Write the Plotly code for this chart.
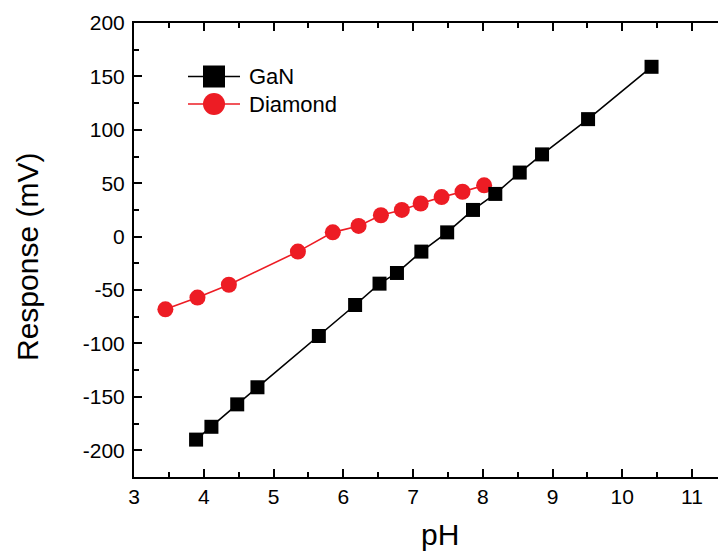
import plotly.graph_objects as go

# pH response of the two sensor surfaces
gan_ph = [3.89, 4.11, 4.48, 4.77, 5.65, 6.17, 6.52, 6.77, 7.12, 7.49, 7.86, 8.18, 8.53, 8.85, 9.51, 10.42]
gan_mv = [-190, -178, -157, -141, -93, -64, -44, -34, -14, 4, 25, 40, 60, 77, 110, 159]

diamond_ph = [3.45, 3.91, 4.36, 5.35, 5.85, 6.22, 6.54, 6.84, 7.11, 7.41, 7.71, 8.02]
diamond_mv = [-68, -57, -45, -14, 4, 10, 20, 25, 31, 37, 42, 48]

# axis ticks (plain hyphen for negatives)
x_ticks = [3, 4, 5, 6, 7, 8, 9, 10, 11]
y_ticks = [-200, -150, -100, -50, 0, 50, 100, 150, 200]
y_tick_text = ["-200", "-150", "-100", "-50", "0", "50", "100", "150", "200"]

RED = "#ED1C24"
FONT = "Liberation Sans, Arial, sans-serif"

W, H = 718, 552
ML, MR, MT, MB = 134, 0, 23, 75
PW, PH = W - ML - MR, H - MT - MB


def px(x):
    return (x - ML) / PW


def py(y):
    return (H - MB - y) / PH


fig = go.Figure()
fig.add_trace(go.Scatter(
    x=diamond_ph, y=diamond_mv, mode="lines+markers", name="Diamond",
    line=dict(color=RED, width=1.6),
    marker=dict(symbol="circle", size=16, color=RED, line=dict(width=0)),
    showlegend=False,
))
fig.add_trace(go.Scatter(
    x=gan_ph, y=gan_mv, mode="lines+markers", name="GaN",
    line=dict(color="black", width=1.6),
    marker=dict(symbol="square", size=14, color="black", line=dict(width=0)),
    showlegend=False,
))

# legend drawn by hand so the symbols can be large
shapes = []
legend_rows = [("GaN", "black", "rect", 76.5), ("Diamond", RED, "circle", 104)]
annotations = []
for label, color, kind, yy in legend_rows:
    shapes.append(dict(type="line", xref="paper", yref="paper",
                       x0=px(188), x1=px(240), y0=py(yy), y1=py(yy),
                       line=dict(color=color, width=1.6)))
    shapes.append(dict(type=kind, xref="paper", yref="paper",
                       xsizemode="pixel", ysizemode="pixel",
                       xanchor=px(214), yanchor=py(yy),
                       x0=-11, x1=11, y0=-11, y1=11,
                       fillcolor=color, line=dict(width=0)))
    annotations.append(dict(text=label, xref="paper", yref="paper",
                            x=px(247), y=py(yy), xanchor="left", yanchor="middle",
                            showarrow=False, font=dict(family=FONT, size=22, color="black")))

annotations.append(dict(text="Response (mV)", xref="paper", yref="paper",
                        x=px(27), y=py(257), textangle=-90, showarrow=False,
                        xanchor="center", yanchor="middle",
                        font=dict(family=FONT, size=30, color="black")))
annotations.append(dict(text="pH", xref="paper", yref="paper",
                        x=px(440), y=py(534), showarrow=False,
                        xanchor="center", yanchor="middle",
                        font=dict(family=FONT, size=30, color="black")))

axis_common = dict(
    showline=True, linecolor="black", linewidth=2,
    ticks="inside", ticklen=8, tickwidth=2, tickcolor="black",
    showgrid=False, zeroline=False,
    tickfont=dict(family=FONT, size=21, color="black"),
)

fig.update_layout(
    width=W, height=H,
    margin=dict(l=ML, r=MR, t=MT, b=MB, pad=0),
    paper_bgcolor="white", plot_bgcolor="white",
    xaxis=dict(range=[3, 3 + PW / 69.75], tickvals=x_ticks, mirror="ticks",
               minor=dict(ticks="inside", ticklen=5, tickwidth=2, tickcolor="black", dtick=0.5),
               **axis_common),
    yaxis=dict(range=[-225, 200], tickvals=y_ticks, ticktext=y_tick_text, mirror=False,
               ticklabelstandoff=3,
               minor=dict(ticks="inside", ticklen=5, tickwidth=2, tickcolor="black", dtick=25),
               **axis_common),
    shapes=shapes,
    annotations=annotations,
    showlegend=False,
)

fig.write_html("out.html")
